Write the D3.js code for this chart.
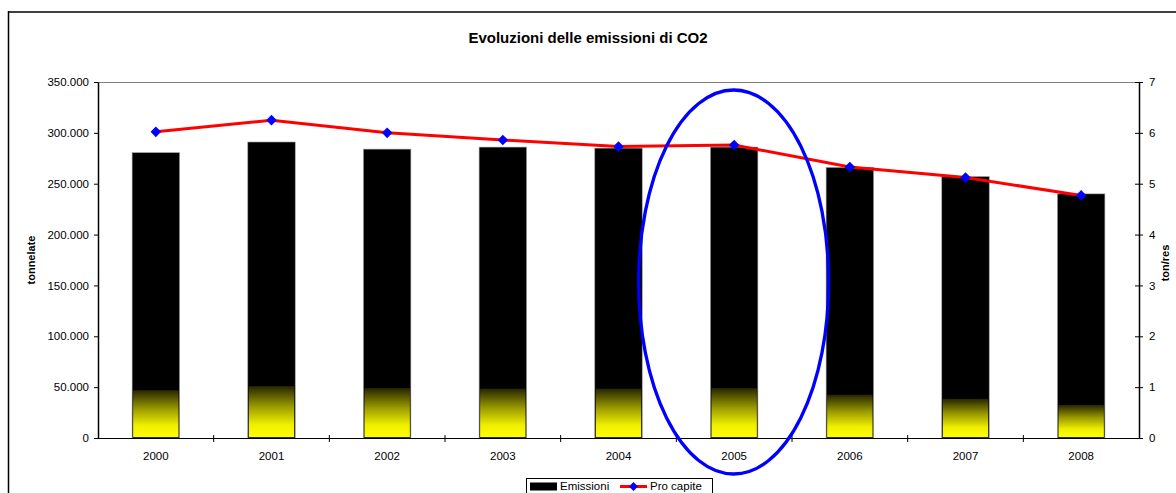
<!DOCTYPE html>
<html><head><meta charset="utf-8">
<script src="https://cdn.jsdelivr.net/npm/d3@7"></script>
<style>body{margin:0;background:#fff;}svg{display:block;font-family:"Liberation Sans",Arial,sans-serif;}</style>
</head><body>
<svg id="c" width="1176" height="493"></svg>
<script>
const years = ["2000","2001","2002","2003","2004","2005","2006","2007","2008"];
const emissioni = [280500, 291000, 284000, 286000, 285000, 286000, 266000, 257000, 240000];
const gradientPart = [47000, 51000, 49000, 48500, 48500, 49000, 42500, 38500, 32500];
const proCapite = [6.02, 6.25, 6.00, 5.86, 5.73, 5.76, 5.33, 5.12, 4.77];
const leftTicks = [0, 50000, 100000, 150000, 200000, 250000, 300000, 350000];
const rightTicks = [0, 1, 2, 3, 4, 5, 6, 7];

const svg = d3.select("#c");
const L = 98, R = 1139, T = 82, B = 438;

// outer frame
svg.append("line").attr("x1", 8.5).attr("x2", 1176).attr("y1", 12).attr("y2", 12).attr("stroke", "#404040").attr("stroke-width", 2);
svg.append("line").attr("x1", 8.5).attr("x2", 8.5).attr("y1", 11).attr("y2", 493).attr("stroke", "#000").attr("stroke-width", 1.5);

svg.append("text").attr("x", 588).attr("y", 43).attr("text-anchor", "middle")
  .attr("font-weight", "bold").attr("font-size", 15).text("Evoluzioni delle emissioni di CO2");

const x = d3.scaleBand().domain(years).range([L, R]).paddingInner(0.59).paddingOuter(0.295);
const xb = d3.scaleBand().domain(years).range([L, R]);
const yL = d3.scaleLinear().domain([0, 350000]).range([B, T]);
const yR = d3.scaleLinear().domain([0, 7]).range([B, T]);

const defs = svg.append("defs");
const g = defs.append("linearGradient").attr("id", "yg").attr("x1", 0).attr("x2", 0).attr("y1", 0).attr("y2", 1);
g.append("stop").attr("offset", "0").attr("stop-color", "#262600");
g.append("stop").attr("offset", "0.4").attr("stop-color", "#9a9a00");
g.append("stop").attr("offset", "0.75").attr("stop-color", "#eeee00");
g.append("stop").attr("offset", "1").attr("stop-color", "#ffff00");

// plot top border
svg.append("line").attr("x1", L).attr("x2", R).attr("y1", T + 0.5).attr("y2", T + 0.5).attr("stroke", "#808080").attr("stroke-width", 1);

// bars
svg.selectAll("rect.bar").data(years).join("rect").attr("class", "bar")
  .attr("x", d => x(d)).attr("width", x.bandwidth())
  .attr("y", (d, i) => yL(emissioni[i])).attr("height", (d, i) => B - yL(emissioni[i]))
  .attr("fill", "#000").attr("stroke", "#999").attr("stroke-width", 0.6);
svg.selectAll("rect.grad").data(years).join("rect").attr("class", "grad")
  .attr("x", d => x(d) + 1).attr("width", x.bandwidth() - 2)
  .attr("y", (d, i) => yL(gradientPart[i])).attr("height", (d, i) => B - yL(gradientPart[i]) - 1)
  .attr("fill", "url(#yg)");

// axes
const fmt = d3.formatLocale({decimal: ",", thousands: ".", grouping: [3], currency: ["", ""]}).format(",");
const axL = svg.append("g").attr("transform", `translate(${L},0)`)
  .call(d3.axisLeft(yL).tickValues(leftTicks).tickFormat(fmt).tickSize(4).tickSizeOuter(0).tickPadding(5));
const axR = svg.append("g").attr("transform", `translate(${R},0)`)
  .call(d3.axisRight(yR).tickValues(rightTicks).tickFormat(d3.format("d")).tickSize(4).tickSizeOuter(0).tickPadding(6));
axR.selectAll(".tick line").attr("x1", -4);
const axX = svg.append("g").attr("transform", `translate(0,${B})`)
  .call(d3.axisBottom(xb).tickSize(0).tickSizeOuter(0).tickPadding(14));
axX.select(".domain").attr("d", `M${L},0.5H${R}`);
// category boundary ticks on x axis
svg.append("g").selectAll("line").data(years.slice(1)).join("line")
  .attr("x1", d => xb(d)).attr("x2", d => xb(d)).attr("y1", B - 3).attr("y2", B + 4).attr("stroke", "#000");
[axL, axR, axX].forEach(a => {
  a.selectAll("text").attr("font-size", 11.5).attr("font-family", "Liberation Sans, Arial, sans-serif").attr("fill", "#000");
  a.selectAll("line, path").attr("stroke", "#000").attr("stroke-width", 1);
});
axL.select(".domain").attr("stroke-width", 1.5);
axR.select(".domain").attr("stroke-width", 1.5);

svg.append("text").attr("transform", "translate(35,260) rotate(-90)").attr("text-anchor", "middle")
  .attr("font-weight", "bold").attr("font-size", 11).text("tonnelate");
svg.append("text").attr("transform", "translate(1169,263) rotate(-90)").attr("text-anchor", "middle")
  .attr("font-weight", "bold").attr("font-size", 11).text("ton/res");

// line
const line = d3.line().x((d, i) => xb(years[i]) + xb.bandwidth() / 2).y(d => yR(d));
svg.append("path").datum(proCapite).attr("d", line).attr("fill", "none").attr("stroke", "#ff0000").attr("stroke-width", 3);
svg.selectAll("path.mk").data(proCapite).join("path").attr("class", "mk")
  .attr("transform", (d, i) => `translate(${xb(years[i]) + xb.bandwidth() / 2},${yR(d)}) rotate(45)`)
  .attr("d", d3.symbol().type(d3.symbolSquare).size(56)).attr("fill", "#0000ff");

// ellipse highlight on 2005
svg.append("ellipse").attr("cx", xb("2005") + xb.bandwidth() / 2 - 0.5).attr("cy", 282).attr("rx", 95).attr("ry", 192)
  .attr("fill", "none").attr("stroke", "#0000ff").attr("stroke-width", 3.3);

// legend
const lg = svg.append("g");
lg.append("rect").attr("x", 526.5).attr("y", 478.5).attr("width", 186).attr("height", 20).attr("fill", "#fff").attr("stroke", "#000");
lg.append("rect").attr("x", 530).attr("y", 482.5).attr("width", 27).attr("height", 8).attr("fill", "#000");
lg.append("text").attr("x", 560).attr("y", 490).attr("font-size", 11.5).text("Emissioni");
lg.append("line").attr("x1", 620).attr("x2", 647).attr("y1", 486.5).attr("y2", 486.5).attr("stroke", "#ff0000").attr("stroke-width", 3);
lg.append("path").attr("transform", "translate(633.5,486.5) rotate(45)").attr("d", d3.symbol().type(d3.symbolSquare).size(40)).attr("fill", "#0000ff");
lg.append("text").attr("x", 650).attr("y", 490).attr("font-size", 11.5).text("Pro capite");
</script>
</body></html>
